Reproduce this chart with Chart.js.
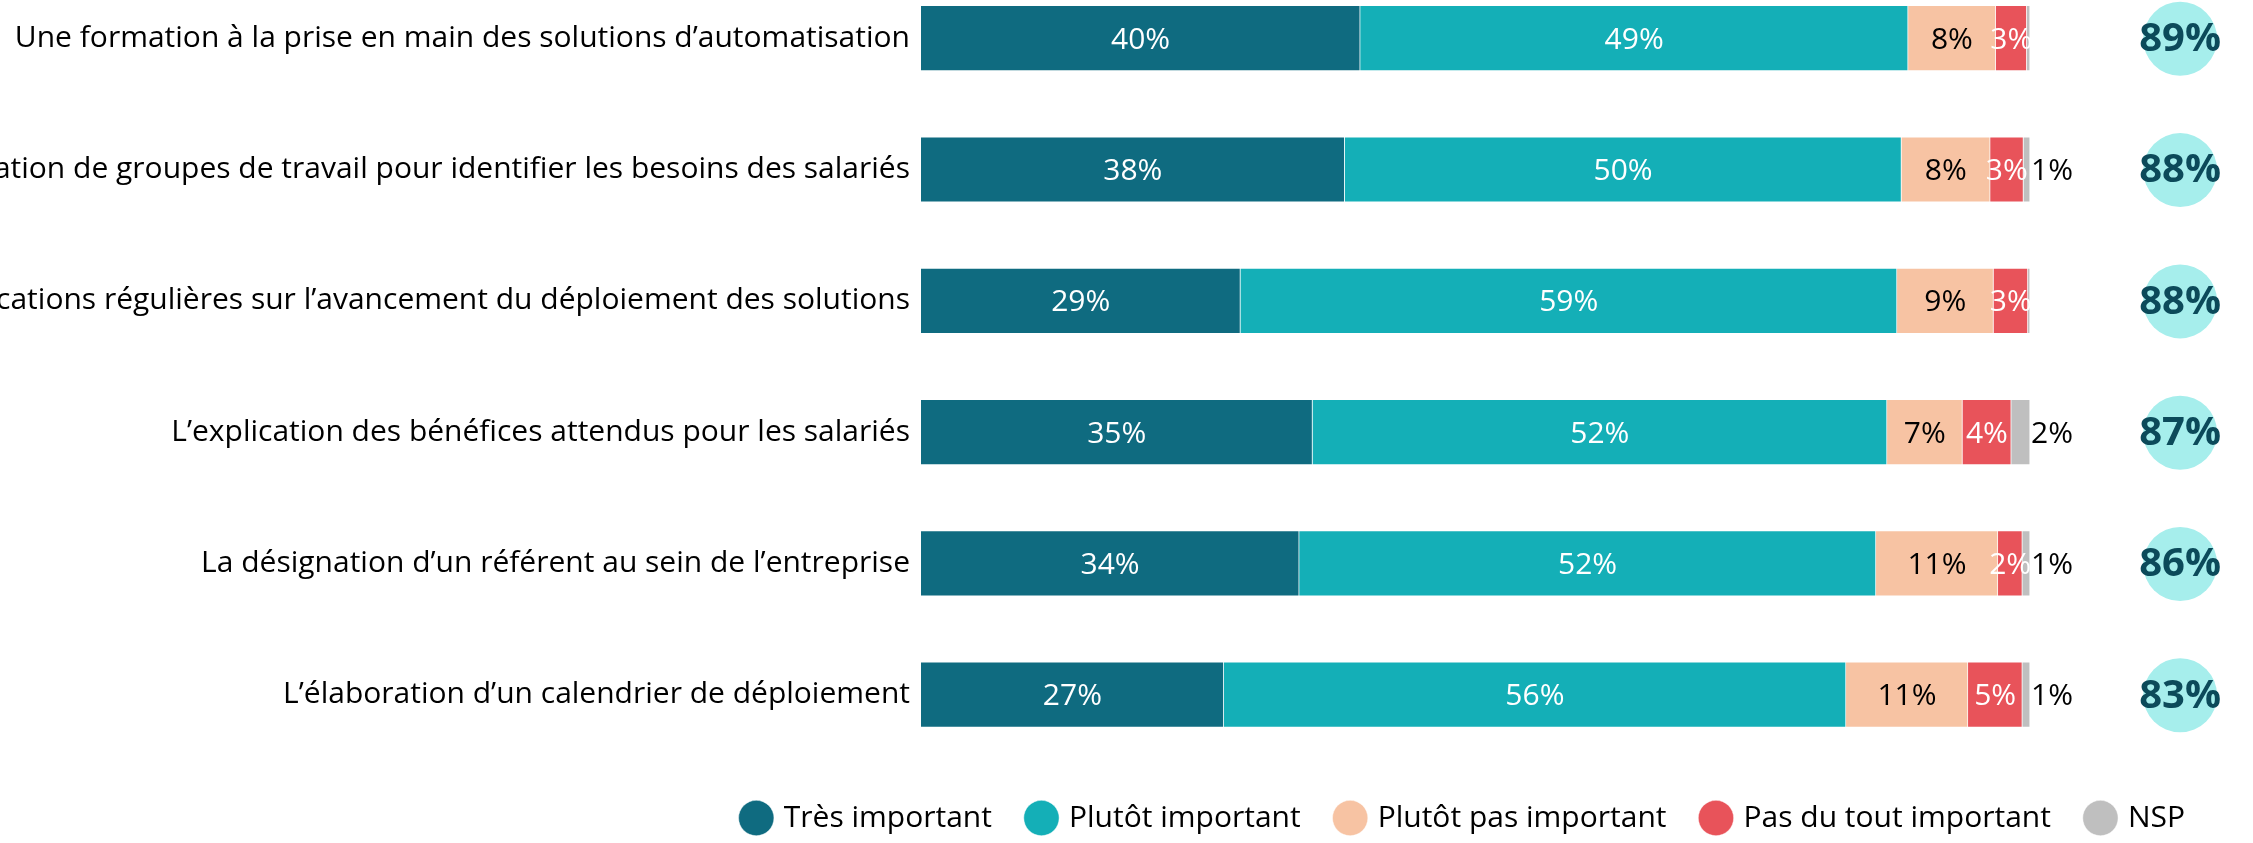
<!DOCTYPE html>
<html><head><meta charset="utf-8">
<script src="https://cdn.jsdelivr.net/npm/chart.js@4.4.1/dist/chart.umd.min.js"></script>
<style>html,body{margin:0;padding:0;background:#fff;overflow:hidden}canvas{display:block}</style>
</head><body>
<canvas id="c" width="2253" height="843"></canvas>
<script>
const categories = [
  "Une formation à la prise en main des solutions d’automatisation",
  "La création de groupes de travail pour identifier les besoins des salariés",
  "Des communications régulières sur l’avancement du déploiement des solutions",
  "L’explication des bénéfices attendus pour les salariés",
  "La désignation d’un référent au sein de l’entreprise",
  "L’élaboration d’un calendrier de déploiement"
];
const seriesNames = ["Très important", "Plutôt important", "Plutôt pas important", "Pas du tout important", "NSP"];
const tresImportant      = [39.6, 38.2, 28.8, 35.3, 34.1, 27.3];
const plutotImportant    = [49.4, 50.2, 59.2, 51.8, 52.0, 56.1];
const plutotPasImportant = [7.9, 8.0, 8.7, 6.8, 11.0, 11.0];
const pasDuToutImportant = [2.8, 3.0, 3.1, 4.4, 2.2, 4.9];
const nsp                = [0.3, 0.6, 0.2, 1.7, 0.7, 0.7];
const totalImportant     = [89, 88, 88, 87, 86, 83];

const seriesValues = [tresImportant, plutotImportant, plutotPasImportant, pasDuToutImportant, nsp];
const seriesColors = ["#0f6b80", "#14afb7", "#f7c3a3", "#e8535a", "#bfbfbf"];
const labelColors  = ["#ffffff", "#ffffff", "#000000", "#ffffff", "#000000"];

const valueLabels = {
  id: 'valueLabels',
  afterDatasetsDraw(chart) {
    const ctx = chart.ctx;
    ctx.save();
    ctx.textBaseline = 'middle';
    ctx.font = '30px "Open Sans"';
    chart.data.datasets.forEach((ds, di) => {
      const meta = chart.getDatasetMeta(di);
      meta.data.forEach((bar, i) => {
        const v = Math.round(ds.data[i]);
        if (!v) return;
        const txt = v + '%';
        ctx.fillStyle = labelColors[di];
        if (di === seriesValues.length - 1) {
          ctx.textAlign = 'left';
          ctx.fillText(txt, bar.x + 1, bar.y + 2);
        } else {
          ctx.textAlign = 'center';
          ctx.fillText(txt, (bar.x + bar.base) / 2, bar.y + 2);
        }
      });
    });
    const xs = chart.scales.x;
    const cx = xs.getPixelForValue(100) + 150;
    const meta0 = chart.getDatasetMeta(0);
    ctx.font = 'bold 40px "Open Sans"';
    ctx.textAlign = 'center';
    meta0.data.forEach((bar, i) => {
      ctx.beginPath();
      ctx.fillStyle = '#a6eeec';
      ctx.arc(cx, bar.y + 0.6, 37, 0, Math.PI * 2);
      ctx.fill();
      ctx.fillStyle = '#0c4a5a';
      ctx.fillText(totalImportant[i] + '%', cx, bar.y + 1.5);
    });
    ctx.restore();
  }
};

function draw() {
  Chart.defaults.font.family = '"Open Sans"';
  new Chart(document.getElementById('c'), {
    type: 'bar',
    data: {
      labels: categories,
      datasets: seriesValues.map((d, i) => ({
        label: seriesNames[i],
        data: d,
        backgroundColor: seriesColors[i],
        borderColor: 'rgba(255,255,255,0.45)',
        borderWidth: 1,
        barThickness: 65.5,
        clip: false
      }))
    },
    options: {
      indexAxis: 'y',
      responsive: false,
      animation: false,
      devicePixelRatio: 1,
      layout: { padding: { top: 38.2, right: 31, left: 0, bottom: 0 } },
      scales: {
        x: { stacked: true, display: false, min: 0, max: 117.3 },
        y: {
          stacked: true,
          offset: false,
          grid: { display: false, drawTicks: false },
          border: { display: false },
          ticks: { padding: 11, color: '#000', font: { family: '"Open Sans"', size: 30 } },
          afterFit(scale) { scale.width = 921; }
        }
      },
      plugins: {
        legend: {
          position: 'bottom',
          align: 'end',
          title: { display: true, text: '', padding: { top: 59.3, bottom: 0 }, font: { size: 12, lineHeight: 1 } },
          labels: {
            usePointStyle: true,
            pointStyle: 'circle',
            boxWidth: 25,
            boxHeight: 25,
            padding: 37,
            color: '#000',
            font: { family: '"Open Sans"', size: 30 }
          }
        },
        tooltip: { enabled: false }
      }
    },
    plugins: [valueLabels]
  });
}

Promise.all([
  document.fonts.load('30px "Open Sans"'),
  document.fonts.load('bold 40px "Open Sans"')
]).then(draw, draw);
</script>
</body></html>
